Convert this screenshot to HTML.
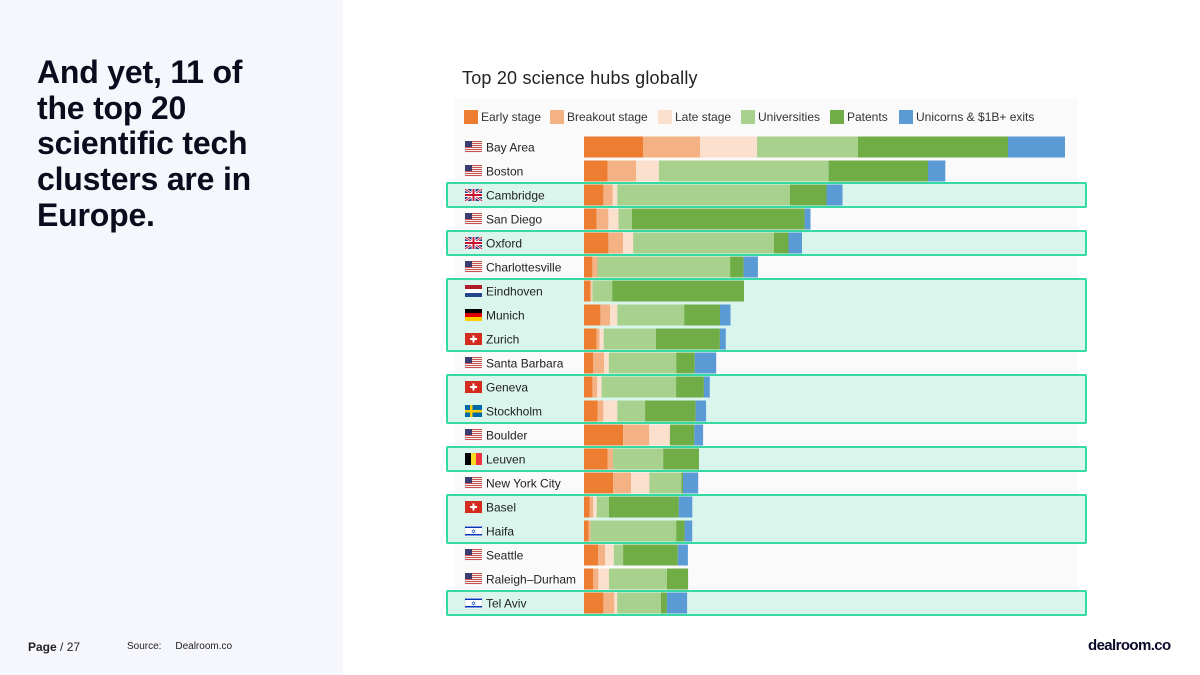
<!DOCTYPE html>
<html><head><meta charset="utf-8">
<style>
html,body{margin:0;padding:0;}
body{width:1200px;height:675px;position:relative;overflow:hidden;background:#fff;font-family:"Liberation Sans",sans-serif;}
#left{position:absolute;left:0;top:0;width:343px;height:675px;background:#f6f7fc;}
#headline{position:absolute;left:37px;top:55px;width:300px;font-weight:bold;font-size:32px;line-height:35.7px;color:#0b0b1e;letter-spacing:-0.2px;white-space:nowrap;}
#page{position:absolute;left:28px;top:640px;font-size:12px;color:#222;}
#source{position:absolute;left:127px;top:641px;font-size:10px;color:#222;}
#logo{position:absolute;left:1088px;top:637px;font-size:15px;font-weight:bold;color:#0b0b2a;letter-spacing:-0.6px;}
#title{position:absolute;left:462px;top:68px;font-size:18px;color:#222;letter-spacing:0.2px;}
svg{position:absolute;left:0;top:0;}
</style></head>
<body>
<div id="left"></div>
<div id="headline">And yet, 11 of<br>the top 20<br>scientific tech<br>clusters are in<br>Europe.</div>
<div id="page"><b style="font-weight:600">Page</b> / 27</div>
<div id="source">Source:&nbsp;&nbsp;&nbsp;&nbsp;&nbsp;Dealroom.co</div>
<div id="logo">dealroom.co</div>
<div id="title">Top 20 science hubs globally</div>
<svg id="chart" width="1200" height="675"></svg>
<script>
const categories=["Bay Area","Boston","Cambridge","San Diego","Oxford","Charlottesville","Eindhoven","Munich","Zurich","Santa Barbara","Geneva","Stockholm","Boulder","Leuven","New York City","Basel","Haifa","Seattle","Raleigh–Durham","Tel Aviv"];
const flags=["us","us","uk","us","uk","us","nl","de","ch","us","ch","se","us","be","us","ch","il","us","us","il"];
const highlighted=[2,4,6,7,8,10,11,13,15,16,19];
const seriesNames=["Early stage","Breakout stage","Late stage","Universities","Patents","Unicorns & $1B+ exits"];
const early=[59,23.6,19.4,12.6,24.4,8.4,6.3,16.4,12.6,9.3,8.4,13.5,39.2,23.6,29.1,5.5,4.6,14.3,9.3,19.4];
const breakout=[57,28.6,9.3,11.8,14.7,5.1,1.3,9.7,2.9,10.9,4.6,5.9,26.1,5.5,18.1,3.8,2.1,6.7,5.1,10.9];
const late=[57,22.7,4.6,10.1,10.1,0,0.8,7.2,4.2,4.6,4.6,13.9,20.6,0,18.1,3.4,0,8.8,10.5,2.9];
const universities=[101,169.7,172.6,13.5,140.6,132.6,19.8,66.9,52.2,67.4,74.5,27.8,0,50.1,32,12.2,85.5,9.3,58.1,43.8];
const patents=[150,99.4,36.6,172.6,14.7,13.5,131.8,35.8,64,18.5,27.8,50.5,24.4,35.8,1.7,69.9,8.4,54.7,21.1,5.9];
const unicorns=[57,17.3,16,5.9,13.5,14.3,0,10.5,5.9,21.5,5.9,10.5,8.8,0,15.2,13.5,7.6,10.1,0,20.2];
const series=[early,breakout,late,universities,patents,unicorns];
const colors=["#ED7D31","#F4B183","#FCE0CE","#A9D18E","#70AD47","#5B9BD5"];

const NS="http://www.w3.org/2000/svg";
const svg=document.getElementById('chart');
const x0=584, pxPerUnit=1, rowY0=147, rowStep=24, barH=21;
const xScale=v=>v*pxPerUnit;
const yCenter=i=>rowY0+i*rowStep;
function mk(tag,attrs,parent){const e=document.createElementNS(NS,tag);for(const k in attrs)e.setAttribute(k,attrs[k]);(parent||svg).appendChild(e);return e;}

const bg=mk('rect',{x:455,y:98,width:622,height:518,fill:'#fafafa'});



const groups=[];let cur=null;
highlighted.forEach(i=>{if(cur&&i===cur[1]+1)cur[1]=i;else{cur=[i,i];groups.push(cur);}});
groups.forEach(g=>{
  const r=mk('rect',{x:447,y:yCenter(g[0])-12,width:639,height:(g[1]-g[0]+1)*rowStep,fill:'#d9f5ec',stroke:'#34d9a3','stroke-width':2,rx:1});
  
  
});

const legX=[464,550,658,741,830,899];
seriesNames.forEach((n,k)=>{
  const g=mk('g',{});
  
  
  mk('rect',{x:legX[k],y:110,width:14,height:14,fill:colors[k]},g);
  const t=mk('text',{x:legX[k]+17,y:121,'font-size':12,fill:'#333','font-family':'Liberation Sans, sans-serif'},g);
  t.textContent=n;
});

function flag(type,x,y,parent){
  const w=17,h=12;const g=mk('g',{},parent);
  if(type==='us'){
    for(let s=0;s<6;s++)mk('rect',{x:x,y:y+s*2,width:w,height:1,fill:'#c9514f'},g);
    for(let s=0;s<6;s++)mk('rect',{x:x,y:y+s*2+1,width:w,height:1,fill:'#f2f2f2'},g);
    mk('rect',{x:x,y:y,width:7,height:6,fill:'#3c3b6e'},g);
  }else if(type==='uk'){
    mk('rect',{x:x,y:y,width:w,height:h,fill:'#2b3f86'},g);
    mk('line',{x1:x,y1:y,x2:x+w,y2:y+h,stroke:'#fff','stroke-width':2.5},g);
    mk('line',{x1:x+w,y1:y,x2:x,y2:y+h,stroke:'#fff','stroke-width':2.5},g);
    mk('line',{x1:x,y1:y,x2:x+w,y2:y+h,stroke:'#c8102e','stroke-width':1},g);
    mk('line',{x1:x+w,y1:y,x2:x,y2:y+h,stroke:'#c8102e','stroke-width':1},g);
    mk('rect',{x:x+6.5,y:y,width:4,height:h,fill:'#fff'},g);
    mk('rect',{x:x,y:y+4,width:w,height:4,fill:'#fff'},g);
    mk('rect',{x:x+7.5,y:y,width:2,height:h,fill:'#c8102e'},g);
    mk('rect',{x:x,y:y+5,width:w,height:2,fill:'#c8102e'},g);
  }else if(type==='nl'){
    mk('rect',{x:x,y:y,width:w,height:4,fill:'#ae1c28'},g);
    mk('rect',{x:x,y:y+4,width:w,height:4,fill:'#fff'},g);
    mk('rect',{x:x,y:y+8,width:w,height:4,fill:'#21468b'},g);
  }else if(type==='de'){
    mk('rect',{x:x,y:y,width:w,height:4,fill:'#000'},g);
    mk('rect',{x:x,y:y+4,width:w,height:4,fill:'#dd0000'},g);
    mk('rect',{x:x,y:y+8,width:w,height:4,fill:'#ffce00'},g);
  }else if(type==='ch'){
    mk('rect',{x:x,y:y,width:w,height:h,fill:'#d52b1e'},g);
    mk('rect',{x:x+7.5,y:y+2.5,width:2,height:7,fill:'#fff'},g);
    mk('rect',{x:x+5,y:y+5,width:7,height:2,fill:'#fff'},g);
  }else if(type==='se'){
    mk('rect',{x:x,y:y,width:w,height:h,fill:'#006aa7'},g);
    mk('rect',{x:x+5,y:y,width:2.5,height:h,fill:'#fecc00'},g);
    mk('rect',{x:x,y:y+5,width:w,height:2.5,fill:'#fecc00'},g);
  }else if(type==='be'){
    mk('rect',{x:x,y:y,width:6,height:h,fill:'#000'},g);
    mk('rect',{x:x+6,y:y,width:5,height:h,fill:'#fdda24'},g);
    mk('rect',{x:x+11,y:y,width:6,height:h,fill:'#ef3340'},g);
  }else if(type==='il'){
    mk('rect',{x:x,y:y,width:w,height:h,fill:'#fff',stroke:'#ccc','stroke-width':0.5},g);
    mk('rect',{x:x,y:y+1.5,width:w,height:1.5,fill:'#0038b8'},g);
    mk('rect',{x:x,y:y+9,width:w,height:1.5,fill:'#0038b8'},g);
    mk('text',{x:x+8.5,y:y+8.5,'font-size':6,'text-anchor':'middle',fill:'#0038b8'},g).textContent='✡';
  }
  return g;
}

categories.forEach((c,i)=>{
  const cy=yCenter(i);
  const row=mk('g',{});
  
  
  const f=flag(flags[i],465,cy-6,row);
  
  
  const t=mk('text',{x:486,y:cy+4.5,'font-size':12,fill:'#222','font-family':'Liberation Sans, sans-serif'},row);
  t.textContent=c;
  
  
  let acc=0;
  series.forEach((s,k)=>{
    const v=s[i];
    if(v>0){
      const b=mk('rect',{x:x0+xScale(acc),y:cy-barH/2,width:xScale(v),height:barH,fill:colors[k]},row);
      
      
    }
    acc+=v;
  });
});
</script>
</body></html>
